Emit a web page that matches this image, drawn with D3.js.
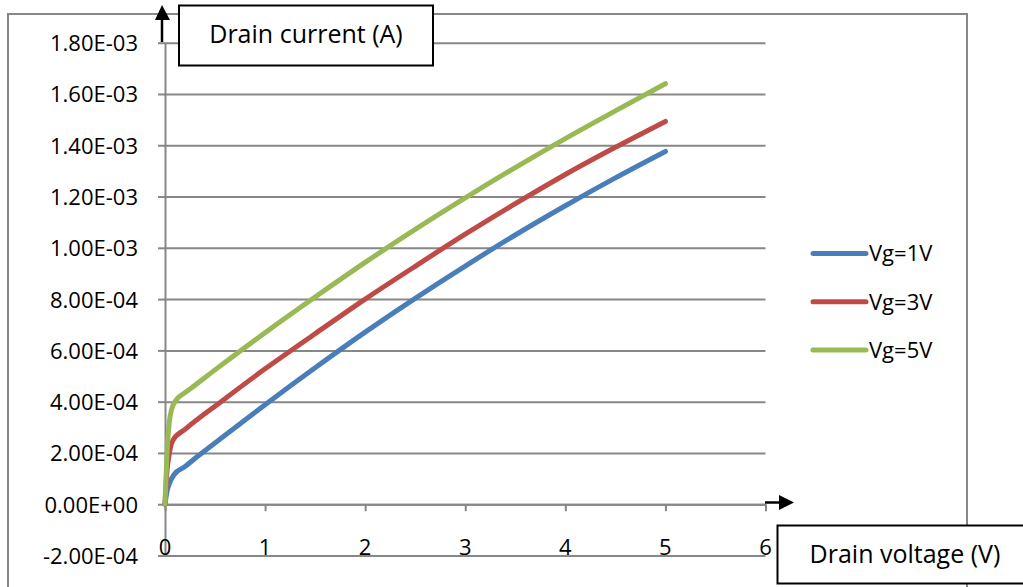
<!DOCTYPE html>
<html>
<head>
<meta charset="utf-8">
<script src="https://cdn.jsdelivr.net/npm/d3@7"></script>
<style>
  html, body { margin: 0; padding: 0; background: #fff; }
  svg { display: block; font-family: "Open Sans", "Noto Sans", sans-serif; }
</style>
</head>
<body>
<svg id="chart" width="1023" height="587"></svg>
<script>
// Drain voltage (V) sample points and drain current (A), one pair of arrays per gate voltage
const vgBlueV  = [0, 0.02, 0.045, 0.09, 0.2, 0.33, 0.6, 1.0, 1.5, 2.0, 2.5, 3.0, 3.5, 4.0, 4.5, 5.0];
const vgBlueI  = [0, 0.5e-4, 0.82e-4, 1.15e-4, 1.47e-4, 1.88e-4, 2.69e-4, 3.88e-4, 5.32e-4, 6.71e-4, 8.03e-4, 9.29e-4, 1.050e-3, 1.164e-3, 1.273e-3, 1.376e-3];

const vgRedV   = [0, 0.02, 0.04, 0.08, 0.2, 0.56, 1.0, 1.5, 2.0, 2.5, 3.0, 3.5, 4.0, 4.5, 5.0];
const vgRedI   = [0, 1.3e-4, 1.9e-4, 2.5e-4, 2.92e-4, 4.0e-4, 5.28e-4, 6.65e-4, 8.0e-4, 9.28e-4, 1.053e-3, 1.172e-3, 1.286e-3, 1.392e-3, 1.493e-3];

const vgGreenV = [0, 0.02, 0.04, 0.07, 0.1, 0.2, 0.3, 0.5, 1.0, 1.5, 2.0, 2.5, 3.0, 3.5, 4.0, 4.5, 5.0];
const vgGreenI = [0, 2.0e-4, 3.1e-4, 3.75e-4, 4.0e-4, 4.35e-4, 4.64e-4, 5.24e-4, 6.69e-4, 8.08e-4, 9.43e-4, 1.072e-3, 1.195e-3, 1.313e-3, 1.426e-3, 1.534e-3, 1.640e-3];

const seriesNames = ["Vg=1V", "Vg=3V", "Vg=5V"];
const seriesColors = ["#4a7ebb", "#be4b48", "#98b954"];

const xTickValues = [0, 1, 2, 3, 4, 5, 6];
const yTickValues = [-2e-4, 0, 2e-4, 4e-4, 6e-4, 8e-4, 1e-3, 1.2e-3, 1.4e-3, 1.6e-3, 1.8e-3];

const yTitle = "Drain current (A)";
const xTitle = "Drain voltage (V)";

const series = [
  { name: seriesNames[0], color: seriesColors[0], pts: vgBlueV.map((v, i) => [v, vgBlueI[i]]) },
  { name: seriesNames[1], color: seriesColors[1], pts: vgRedV.map((v, i) => [v, vgRedI[i]]) },
  { name: seriesNames[2], color: seriesColors[2], pts: vgGreenV.map((v, i) => [v, vgGreenI[i]]) }
];

// Excel-style scientific labels, e.g. 1.80E-03
function sci(v) {
  if (Math.abs(v) < 1e-12) return "0.00E+00";
  const e = Math.floor(Math.log10(Math.abs(v)) + 1e-9);
  const m = v / Math.pow(10, e);
  const sign = e < 0 ? "-" : "+";
  return m.toFixed(2) + "E" + sign + String(Math.abs(e)).padStart(2, "0");
}

const svg = d3.select("#chart");
const gridColor = "#878787";

const x = d3.scaleLinear().domain([0, 6]).range([165, 765.5]);
const y = d3.scaleLinear().domain([-2e-4, 1.8e-3]).range([555.5, 42.7]);

// outer chart frame
svg.append("rect")
  .attr("x", 8).attr("y", 14).attr("width", 959).attr("height", 600)
  .attr("fill", "#fff").attr("stroke", gridColor).attr("stroke-width", 2);

// horizontal gridlines
const grid = svg.append("g").attr("transform", `translate(${x(0)},0)`)
  .call(d3.axisLeft(y).tickValues(yTickValues).tickSize(-(x(6) - x(0))).tickSizeOuter(0).tickFormat(""));
grid.select(".domain").remove();
grid.selectAll(".tick line").attr("stroke", gridColor).attr("stroke-width", 2);

// y axis with labels
const yAxis = svg.append("g").attr("transform", `translate(${x(0)},0)`)
  .call(d3.axisLeft(y).tickValues(yTickValues).tickSize(7).tickSizeOuter(0).tickPadding(20).tickFormat(sci));
yAxis.select(".domain").attr("stroke", gridColor).attr("stroke-width", 2);
yAxis.selectAll(".tick line").attr("stroke", gridColor).attr("stroke-width", 2);
yAxis.selectAll(".tick text").attr("font-size", 22).attr("fill", "#000")
  .attr("font-family", "'Open Sans', sans-serif").attr("dy", "0.36em");

// x axis through zero with downward ticks
const xAxis = svg.append("g").attr("transform", `translate(0,${y(0)})`)
  .call(d3.axisBottom(x).tickValues(xTickValues).tickSize(7).tickSizeOuter(0).tickFormat(""));
xAxis.select(".domain").attr("stroke", gridColor).attr("stroke-width", 2);
xAxis.selectAll(".tick line").attr("stroke", gridColor).attr("stroke-width", 2);

// x tick labels along the bottom of the plot
svg.append("g").selectAll("text").data(xTickValues).join("text")
  .attr("x", d => x(d)).attr("y", y(-2e-4) - 1)
  .attr("text-anchor", "middle").attr("font-size", 22).attr("fill", "#000")
  .text(d => d);

// data lines
const line = d3.line().x(d => x(d[0])).y(d => y(d[1])).curve(d3.curveMonotoneX);
svg.append("g").selectAll("path").data(series).join("path")
  .attr("d", d => line(d.pts))
  .attr("fill", "none").attr("stroke", d => d.color).attr("stroke-width", 5)
  .attr("stroke-linecap", "round").attr("stroke-linejoin", "round");

// legend
const legend = svg.append("g").selectAll("g").data(series).join("g")
  .attr("transform", (d, i) => `translate(0,${253.5 + i * 48.3})`);
legend.append("line").attr("x1", 813).attr("x2", 866).attr("y1", 0).attr("y2", 0)
  .attr("stroke", d => d.color).attr("stroke-width", 5).attr("stroke-linecap", "round");
legend.append("text").attr("x", 869).attr("y", 0).attr("dy", "0.36em")
  .attr("font-size", 22).attr("fill", "#000").text(d => d.name);

// axis arrows
svg.append("line").attr("x1", 162).attr("x2", 162).attr("y1", 42).attr("y2", 18)
  .attr("stroke", "#000").attr("stroke-width", 2.5);
svg.append("path").attr("d", "M162,5 L155,20 L170,20 Z").attr("fill", "#000");
svg.append("line").attr("x1", 765).attr("x2", 781).attr("y1", 502.5).attr("y2", 502.5)
  .attr("stroke", "#000").attr("stroke-width", 2.5);
svg.append("path").attr("d", "M794,502.5 L779,495 L779,510 Z").attr("fill", "#000");

// axis title boxes
svg.append("rect").attr("x", 179).attr("y", 5.5).attr("width", 254).attr("height", 60)
  .attr("fill", "#fff").attr("stroke", "#000").attr("stroke-width", 2);
svg.append("text").attr("x", 306).attr("y", 43).attr("text-anchor", "middle")
  .attr("font-size", 25).attr("fill", "#000").text(yTitle);

svg.append("rect").attr("x", 777.5).attr("y", 525.5).attr("width", 260).attr("height", 58)
  .attr("fill", "#fff").attr("stroke", "#000").attr("stroke-width", 2);
svg.append("text").attr("x", 905).attr("y", 563).attr("text-anchor", "middle")
  .attr("font-size", 25).attr("fill", "#000").text(xTitle);
</script>
</body>
</html>
